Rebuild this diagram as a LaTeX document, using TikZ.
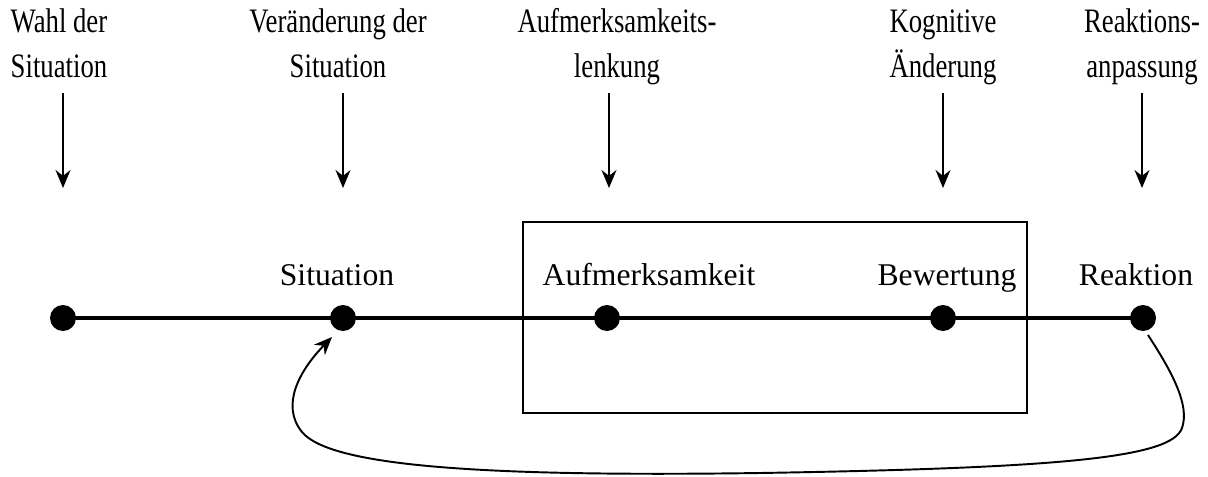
\documentclass[tikz,border=0pt]{standalone}
\usepackage{fontspec}
\setmainfont{Liberation Serif}
\newfontfamily\narrowfont[FakeStretch=0.78]{Liberation Serif}
\usetikzlibrary{arrows.meta}

\begin{document}
\begin{tikzpicture}[x=0.02cm,y=-0.02cm,
  dot/.style={circle,fill=black,inner sep=0pt,minimum size=0.52cm},
  toplbl/.style={font=\narrowfont\fontsize{19.5pt}{25.5pt}\selectfont,align=center,anchor=base,inner sep=0pt},
  midlbl/.style={font=\fontsize{18pt}{22pt}\selectfont,anchor=base,inner sep=0pt},
  pfeil/.style={line width=0.85pt,-{Stealth[length=0.36cm,width=0.3cm]}}]
  \useasboundingbox (0,0) rectangle (1208,477);

  % the box round Aufmerksamkeit and Bewertung
  \coordinate (b1) at (523,222);
  \coordinate (b2) at (1027,413);
  \draw[line width=0.85pt] (b1) rectangle (b2);

  % points on the line
  \node[dot] (p1) at (63,318) {};
  \node[dot] (p2) at (343,318) {};
  \node[dot] (p3) at (607,318) {};
  \node[dot] (p4) at (943,318) {};
  \node[dot] (p5) at (1143,318) {};
  \draw[line width=2.8pt] (p1.center) -- (p5.center);

  \node[midlbl] (m2) at (337,285) {Situation};
  \node[midlbl] (m3) at (649,285) {Aufmerksamkeit};
  \node[midlbl] (m4) at (947,285) {Bewertung};
  \node[midlbl] (m5) at (1136,285) {Reaktion};

  % strategies on top, with their arrows
  \node[toplbl] (t1) at (59,77) {Wahl der\\Situation};
  \node[toplbl] (t2) at (338,77) {Veränderung der\\Situation};
  \node[toplbl] (t3) at (617,77) {Aufmerksamkeits-\\lenkung};
  \node[toplbl] (t4) at (943,77) {Kognitive\\Änderung};
  \node[toplbl] (t5) at (1142,77) {Reaktions-\\anpassung};

  \coordinate (s1) at (63,93);   \coordinate (e1) at (63,188);
  \coordinate (s2) at (343,93);  \coordinate (e2) at (343,188);
  \coordinate (s3) at (609,93);  \coordinate (e3) at (609,188);
  \coordinate (s4) at (943,93);  \coordinate (e4) at (943,188);
  \coordinate (s5) at (1142,93); \coordinate (e5) at (1142,188);
  \draw[pfeil] (s1) -- (e1);
  \draw[pfeil] (s2) -- (e2);
  \draw[pfeil] (s3) -- (e3);
  \draw[pfeil] (s4) -- (e4);
  \draw[pfeil] (s5) -- (e5);

  % feedback from Reaktion back to Situation
  \coordinate (r1) at (1148,335);
  \coordinate (r2) at (332,337);
  \draw[line width=1.1pt,-{Stealth[length=0.36cm,width=0.3cm]}] (r1)
    .. controls (1172,372) and (1190,405) .. (1182,428)
    .. controls (1172,458) and (1060,468) .. (760,473)
    .. controls (480,477) and (330,466) .. (302,432)
    .. controls (280,405) and (300,370) .. (r2);
\end{tikzpicture}
\end{document}
